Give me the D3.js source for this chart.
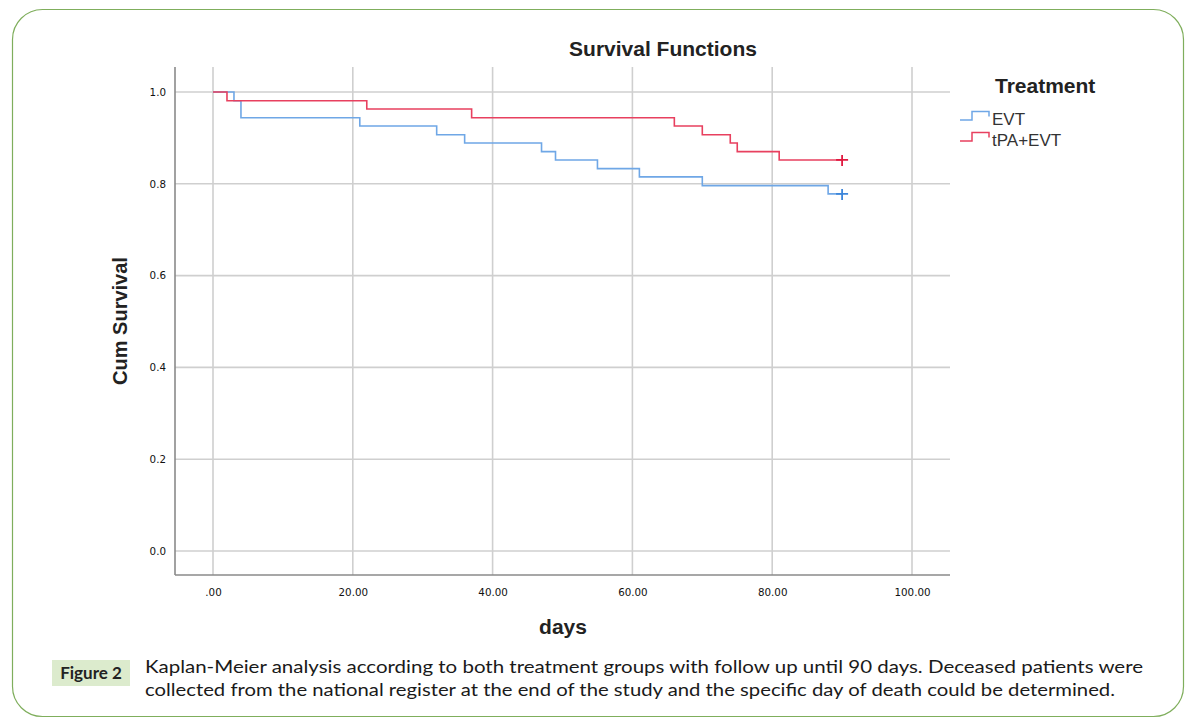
<!DOCTYPE html>
<html><head><meta charset="utf-8">
<script src="https://cdn.jsdelivr.net/npm/d3@7"></script>
<style>body{margin:0;background:#fff;}svg{display:block;}</style>
</head><body>
<svg id="c" width="1195" height="722"></svg>
<script>
// ---- data ----
const xTicks = [0, 20, 40, 60, 80, 100];
const xTickLabels = [".00", "20.00", "40.00", "60.00", "80.00", "100.00"];
const yTicks = [0, 0.2, 0.4, 0.6, 0.8, 1.0];
const yTickLabels = ["0.0", "0.2", "0.4", "0.6", "0.8", "1.0"];
const seriesNames = ["EVT", "tPA+EVT"];
const evtDays = [0, 3, 4, 21, 32, 36, 47, 49, 55, 61, 70, 88, 90];
const evtSurv = [1.0, 0.981, 0.944, 0.926, 0.907, 0.889, 0.870, 0.852, 0.833, 0.815, 0.796, 0.778, 0.778];
const tpaDays = [0, 2, 22, 37, 66, 70, 74, 75, 81, 90];
const tpaSurv = [1.0, 0.981, 0.963, 0.944, 0.926, 0.907, 0.889, 0.870, 0.852, 0.852];
const censorDay = [90, 90];

const svg = d3.select("#c");

// outer rounded frame
svg.append("rect").attr("x", 12.5).attr("y", 9.5).attr("width", 1171).attr("height", 707)
  .attr("rx", 30).attr("ry", 30).attr("fill", "none").attr("stroke", "#7fae5c").attr("stroke-width", 1.2);

const x = d3.scaleLinear().domain([0, 100]).range([213, 912]);
const y = d3.scaleLinear().domain([0, 1]).range([551, 92]);
const plotL = 175, plotR = 950, plotT = 67, plotB = 575;

// gridlines
const g = svg.append("g");
g.selectAll(".vg").data(xTicks).join("line")
  .attr("x1", d => x(d)).attr("x2", d => x(d)).attr("y1", plotT).attr("y2", plotB)
  .attr("stroke", "#cfcfcf").attr("stroke-width", 1.6);
g.selectAll(".hg").data(yTicks).join("line")
  .attr("x1", plotL).attr("x2", plotR).attr("y1", d => y(d)).attr("y2", d => y(d))
  .attr("stroke", "#cfcfcf").attr("stroke-width", 1.6);

// axes via d3
const xAxis = d3.axisBottom(x).tickValues(xTicks).tickFormat((d, i) => xTickLabels[i]).tickSize(0).tickPadding(14);
const yAxis = d3.axisLeft(y).tickValues(yTicks).tickFormat((d, i) => yTickLabels[i]).tickSize(0).tickPadding(9);
const gx = svg.append("g").attr("transform", `translate(0,${plotB})`).call(xAxis);
const gy = svg.append("g").attr("transform", `translate(${plotL},0)`).call(yAxis);
[gx, gy].forEach(a => {
  a.select(".domain").remove();
  a.selectAll("text").attr("font-family", "DejaVu Sans").attr("font-size", 10.3).attr("fill", "#111");
});
svg.append("line").attr("x1", plotL).attr("x2", plotL).attr("y1", plotT).attr("y2", plotB)
  .attr("stroke", "#8a8a8a").attr("stroke-width", 1.6);
svg.append("line").attr("x1", plotL).attr("x2", plotR).attr("y1", plotB).attr("y2", plotB)
  .attr("stroke", "#8a8a8a").attr("stroke-width", 1.6);

// step lines
const colors = ["#6fa7e6", "#e8405f"];
const markColors = ["#3d86da", "#e0193f"];
const line = d3.line().x(d => x(d[0])).y(d => y(d[1])).curve(d3.curveStepAfter);
const series = [d3.zip(evtDays, evtSurv), d3.zip(tpaDays, tpaSurv)];
series.forEach((s, i) => {
  svg.append("path").attr("d", line(s)).attr("fill", "none")
    .attr("stroke", colors[i]).attr("stroke-width", 1.6);
  const last = s[s.length - 1];
  const cx = x(censorDay[i]), cy = y(last[1]);
  svg.append("path").attr("d", `M${cx-6},${cy}H${cx+6}M${cx},${cy-5}V${cy+6}`)
    .attr("stroke", markColors[i]).attr("stroke-width", 1.8).attr("fill", "none");
});

// titles
const bold = "Liberation Sans";
svg.append("text").attr("x", 663).attr("y", 56).attr("text-anchor", "middle")
  .attr("font-family", bold).attr("font-weight", "bold").attr("font-size", 21).attr("fill", "#222")
  .text("Survival Functions");
svg.append("text").attr("x", 563).attr("y", 634).attr("text-anchor", "middle")
  .attr("font-family", bold).attr("font-weight", "bold").attr("font-size", 21).attr("fill", "#222")
  .text("days");
svg.append("text").attr("transform", "translate(127,321) rotate(-90)").attr("text-anchor", "middle")
  .attr("font-family", bold).attr("font-weight", "bold").attr("font-size", 20).attr("fill", "#222")
  .text("Cum Survival");

// legend
svg.append("text").attr("x", 995).attr("y", 93)
  .attr("font-family", bold).attr("font-weight", "bold").attr("font-size", 21).attr("fill", "#222")
  .text("Treatment");
const legY = [120, 141];
seriesNames.forEach((n, i) => {
  const b = legY[i];
  svg.append("path").attr("d", `M960,${b}H972V${b-8.5}H989V${b-3.5}`)
    .attr("fill", "none").attr("stroke", colors[i]).attr("stroke-width", 1.5);
  svg.append("text").attr("x", 992).attr("y", b + 5)
    .attr("font-family", "Liberation Sans").attr("font-size", 17).attr("fill", "#333").text(n);
});

// caption
svg.append("rect").attr("x", 52).attr("y", 660).attr("width", 78).attr("height", 26).attr("fill", "#dcebcd");
svg.append("text").attr("x", 91).attr("y", 679).attr("text-anchor", "middle")
  .attr("font-family", "Lato").attr("font-weight", "bold").attr("font-size", 17).attr("fill", "#222").text("Figure 2");
const cap = ["Kaplan-Meier analysis according to both treatment groups with follow up until 90 days. Deceased patients were",
  "collected from the national register at the end of the study and the specific day of death could be determined."];
const capW = [998, 970];
cap.forEach((t, i) => {
  svg.append("text").attr("x", 145).attr("y", 673 + i * 23)
    .attr("font-family", "Lato").attr("font-size", 18).attr("fill", "#1a1a1a")
    .attr("textLength", capW[i]).attr("lengthAdjust", "spacingAndGlyphs").text(t);
});
</script>
</body></html>
